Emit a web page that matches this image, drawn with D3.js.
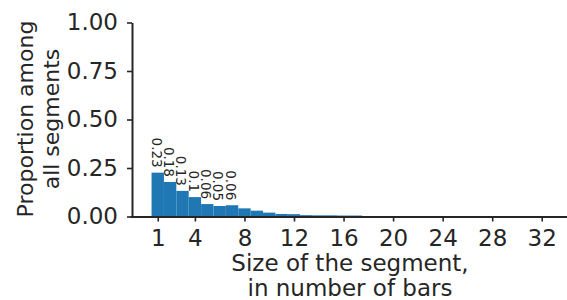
<!DOCTYPE html>
<html><head><meta charset="utf-8">
<script src="https://cdn.jsdelivr.net/npm/d3@7"></script>
<style>
html,body{margin:0;padding:0;background:#fff;}
svg{display:block;font-family:"DejaVu Sans",sans-serif;}
</style></head>
<body><svg id="c" width="567" height="300"></svg>
<script>
const sizes = [1,2,3,4,5,6,7,8,9,10,11,12,13,14,15,16,17];
const proportions = [0.226,0.178,0.132,0.100,0.064,0.054,0.058,0.042,0.030,0.020,0.013,0.012,0.007,0.006,0.006,0.005,0.005];
const barLabels = ["0.23","0.18","0.13","0.1","0.06","0.05","0.06"];
const xTicks = [1,4,8,12,16,20,24,28,32];
const yTicks = [0,0.25,0.5,0.75,1.0];
const yTickLabels = ["0.00","0.25","0.50","0.75","1.00"];

const svg = d3.select("#c");
const ink = "#262626";
const x = d3.scaleLinear().domain([-1.24, 34.04]).range([130, 567]);
const y = d3.scaleLinear().domain([0, 1]).range([216.5, 22.5]);
const bw = x(1) - x(0);

svg.selectAll("rect.bar").data(sizes).enter().append("rect")
  .attr("class","bar")
  .attr("x", d => x(d - 0.5))
  .attr("width", bw)
  .attr("y", (d,i) => y(proportions[i]))
  .attr("height", (d,i) => y(0) - y(proportions[i]))
  .attr("fill", "#1f77b4");

svg.selectAll("text.bl").data(barLabels).enter().append("text")
  .attr("class","bl")
  .attr("transform", (d,i) => `translate(${x(sizes[i]) - 1.5},${y(proportions[i]) - 5}) rotate(90)`)
  .attr("text-anchor","end")
  .attr("dy","0.35em")
  .attr("font-size","13.5px")
  .attr("fill", ink)
  .text(d => d);

const xa = svg.append("g").attr("transform","translate(0,216.5)")
  .call(d3.axisBottom(x).tickValues(xTicks).tickSize(5).tickPadding(8).tickSizeOuter(0));
const ya = svg.append("g").attr("transform","translate(132,0)")
  .call(d3.axisLeft(y).tickValues(yTicks).tickFormat((d,i)=>yTickLabels[i]).tickSize(5).tickPadding(9).tickSizeOuter(0));
[xa, ya].forEach(a => {
  a.select(".domain").attr("stroke", ink).attr("stroke-width", 2);
  a.selectAll(".tick line").attr("stroke", ink).attr("stroke-width", 1.6);
  a.selectAll(".tick text").attr("fill", ink).attr("font-size","23px").attr("font-family","DejaVu Sans");
});

svg.append("text").attr("x",350).attr("y",271).attr("text-anchor","middle")
  .attr("font-size","23px").attr("fill",ink).text("Size of the segment,");
svg.append("text").attr("x",350).attr("y",296).attr("text-anchor","middle")
  .attr("font-size","23px").attr("fill",ink).text("in number of bars");

const yt = svg.append("g").attr("transform","translate(0,119) rotate(-90)");
yt.append("text").attr("x",0).attr("y",33).attr("text-anchor","middle")
  .attr("font-size","22px").attr("fill",ink).text("Proportion among");
yt.append("text").attr("x",0).attr("y",59).attr("text-anchor","middle")
  .attr("font-size","22px").attr("fill",ink).text("all segments");
</script></body></html>
